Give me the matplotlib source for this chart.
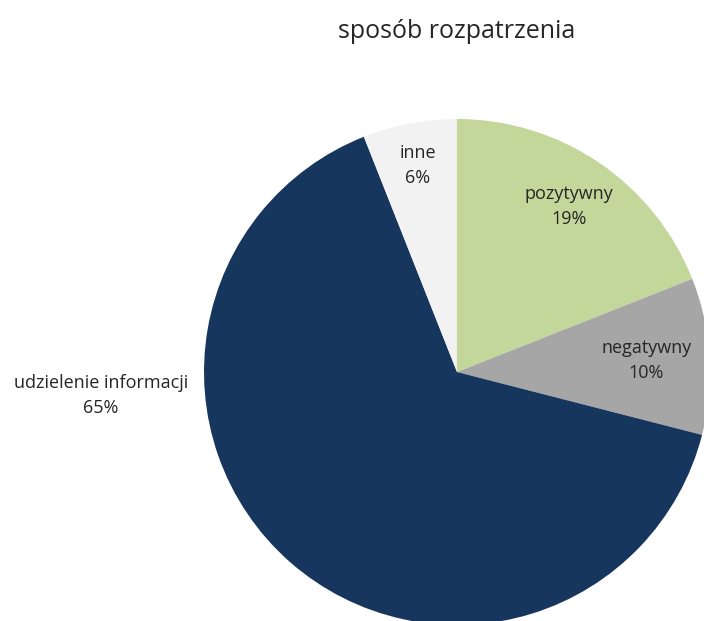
import numpy as np
import matplotlib.pyplot as plt

categories = ['pozytywny', 'negatywny', 'udzielenie informacji', 'inne']
shares = [19, 10, 65, 6]
colors = ['#C4D79B', '#A6A6A6', '#17365D', '#F2F2F2']
title = 'sposób rozpatrzenia'


def main():
    plt.rcParams['font.family'] = ['Open Sans', 'DejaVu Sans']
    fig = plt.figure(figsize=(7.04, 6.21), dpi=100)
    ax = fig.add_axes([0, 0, 1, 1])

    cx, cy, r = 457, 621 - 372, 253
    wedges, _ = ax.pie(shares, colors=colors, startangle=90, counterclock=False,
                       center=(cx, cy), radius=r)
    ax.set_xlim(0, 704)
    ax.set_ylim(0, 621)
    ax.set_aspect('equal')
    ax.axis('off')

    # label placement: fraction of radius, angle override for the outside label
    dist = [0.79, 0.75, 1.41, 0.83]
    angle_override = {2: 183.7}
    for i, (w, name, val) in enumerate(zip(wedges, categories, shares)):
        ang = angle_override.get(i, (w.theta1 + w.theta2) / 2)
        x = cx + dist[i] * r * np.cos(np.radians(ang))
        y = cy + dist[i] * r * np.sin(np.radians(ang))
        ax.text(x, y, f'{name}\n{val}%', ha='center', va='center',
                fontsize=13, color='#262626', linespacing=1.5)

    fig.text(457 / 704, 1 - 32 / 621, title, ha='center', va='center',
             fontsize=18, color='#262626')
    fig.savefig('out.png', dpi=100)


if __name__ == '__main__':
    main()
